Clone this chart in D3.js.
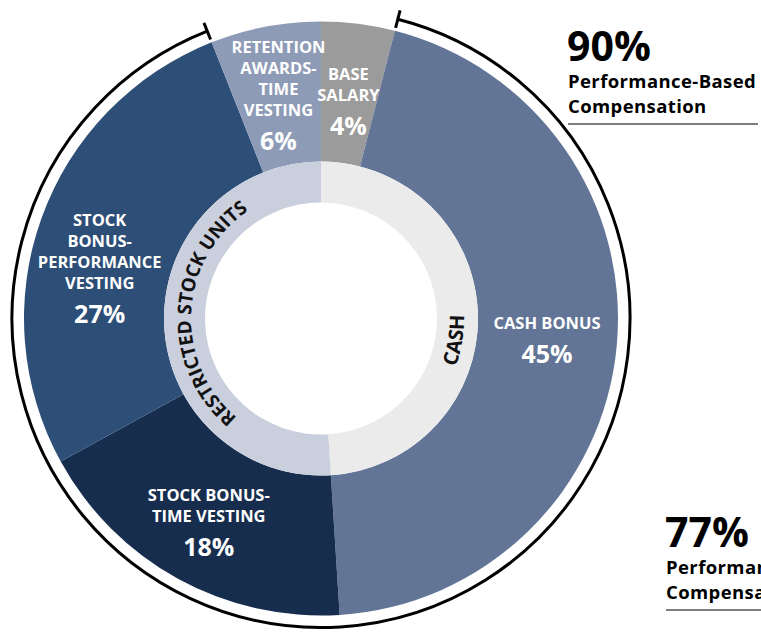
<!DOCTYPE html>
<html>
<head>
<meta charset="utf-8">
<script src="https://cdn.jsdelivr.net/npm/d3@7"></script>
<style>
  html, body { margin: 0; padding: 0; background: #fff; }
  svg { display: block; }
  text { font-family: "Open Sans", "Noto Sans", sans-serif; font-weight: 700; }
</style>
</head>
<body>
<svg id="chart" width="761" height="632"></svg>
<script>
// Pay mix: outer ring = pay elements, inner ring = cash vs. equity
const categories = [
  "Base Salary",
  "Cash Bonus",
  "Stock Bonus-Time Vesting",
  "Stock Bonus-Performance Vesting",
  "Retention Awards-Time Vesting"
];
const shares = [4, 45, 18, 27, 6];
const labelLines = [
  ["BASE", "SALARY"],
  ["CASH BONUS"],
  ["STOCK BONUS-", "TIME VESTING"],
  ["STOCK", "BONUS-", "PERFORMANCE", "VESTING"],
  ["RETENTION", "AWARDS-", "TIME", "VESTING"]
];
const performanceBased = [
  "Cash Bonus",
  "Stock Bonus-Time Vesting",
  "Stock Bonus-Performance Vesting"
];

const groups = ["CASH", "RESTRICTED STOCK UNITS"];
const groupShares = [49, 51];

const calloutValues = ["90%", "77%"];
const calloutLines = ["Performance-Based", "Compensation"];

// Styles
const sliceColors = ["#9b9b9b", "#627596", "#172d4e", "#2d4e76", "#8e9bb6"];
const groupColors = ["#ebebeb", "#c9cfdc"];

const svg = d3.select("#chart");
const cx = 321, cy = 318.5;
const rOuter = 297, rMid = 157, rInner = 116, rBracket = 309;

const g = svg.append("g").attr("transform", `translate(${cx},${cy})`);

const pie = d3.pie().sort(null).value(d => d).startAngle(0).endAngle(2 * Math.PI);
const slices = pie(shares);
const groupArcs = pie(groupShares);

const outerArc = d3.arc().innerRadius(rMid).outerRadius(rOuter);
const innerArc = d3.arc().innerRadius(rInner).outerRadius(rMid);

g.selectAll("path.slice").data(slices).join("path")
  .attr("class", "slice")
  .attr("d", outerArc)
  .attr("fill", (d, i) => sliceColors[i]);

g.selectAll("path.group").data(groupArcs).join("path")
  .attr("class", "group")
  .attr("d", innerArc)
  .attr("fill", (d, i) => groupColors[i]);

// Slice labels, centred on each slice's mid angle
const labelRadius = 227;
const labelNudge = {
  "Base Salary": { r: 219 },
  "Stock Bonus-Time Vesting": { r: 233 },
  "Stock Bonus-Performance Vesting": { a: -7 }
};
const lineGap = 21, pctGap = 34, capH = 12;

slices.forEach((s, i) => {
  const nudge = labelNudge[categories[i]] || {};
  const a = (s.startAngle + s.endAngle) / 2 + (nudge.a || 0) * Math.PI / 180;
  const r = nudge.r || labelRadius;
  const x = r * Math.sin(a);
  const y = -r * Math.cos(a);
  const lines = labelLines[i];
  const h = (lines.length - 1) * lineGap + pctGap + capH;
  const top = y - h / 2 + capH;
  const t = g.append("g").attr("fill", "#fff").attr("text-anchor", "middle");
  lines.forEach((ln, k) => {
    t.append("text").attr("x", x).attr("y", top + k * lineGap)
      .attr("font-size", 16.5).text(ln);
  });
  t.append("text").attr("x", x)
    .attr("y", top + (lines.length - 1) * lineGap + pctGap)
    .attr("font-size", 25).text(shares[i] + "%");
});

// Curved labels on the inner ring
function ringPath(r, aMid, span, ccw) {
  const p = d3.path();
  const a0 = aMid - span / 2 - Math.PI / 2, a1 = aMid + span / 2 - Math.PI / 2;
  if (ccw) {
    p.moveTo(r * Math.cos(a1), r * Math.sin(a1));
    p.arc(0, 0, r, a1, a0, true);
  } else {
    p.moveTo(r * Math.cos(a0), r * Math.sin(a0));
    p.arc(0, 0, r, a0, a1, false);
  }
  return p.toString();
}
const ringText = [
  { r: 143, shift: 11, ccw: true, size: 20 },   // CASH, reading upward on the right
  { r: 130, shift: 5, ccw: false, size: 19 }    // RSU, reading upward on the left
];
groupArcs.forEach((s, i) => {
  const mid = (s.startAngle + s.endAngle) / 2 + ringText[i].shift * Math.PI / 180;
  const id = "ring-" + i;
  g.append("path").attr("id", id).attr("fill", "none")
    .attr("d", ringPath(ringText[i].r, mid, Math.PI * 0.95, ringText[i].ccw));
  g.append("text").attr("font-size", ringText[i].size).attr("fill", "#111")
    .append("textPath").attr("href", "#" + id)
    .attr("startOffset", "50%").attr("text-anchor", "middle")
    .text(groups[i]);
});

// Bracket spanning the performance-based slices
const perf = slices.filter((s, i) => performanceBased.includes(categories[i]));
const bStart = d3.min(perf, d => d.startAngle);
const bEnd = d3.max(perf, d => d.endAngle);
const bp = d3.path();
bp.arc(0, 0, rBracket, bStart - Math.PI / 2, bEnd - Math.PI / 2, false);
g.append("path").attr("d", bp.toString())
  .attr("fill", "none").attr("stroke", "#000").attr("stroke-width", 3);
[bStart, bEnd].forEach(a => {
  const r0 = rBracket - 9, r1 = rBracket + 9;
  g.append("line")
    .attr("x1", r0 * Math.sin(a)).attr("y1", -r0 * Math.cos(a))
    .attr("x2", r1 * Math.sin(a)).attr("y2", -r1 * Math.cos(a))
    .attr("stroke", "#000").attr("stroke-width", 3);
});

// Callouts on the right
const perfTotal = d3.sum(perf, d => d.data);
const callouts = [
  { x: 568, y: 61, lineEnd: 758 },
  { x: 666, y: 547, lineEnd: 770 }
];
callouts.forEach((c, i) => {
  const value = i === 0 ? perfTotal + "%" : calloutValues[i];
  svg.append("text").attr("x", c.x - 1).attr("y", c.y)
    .attr("font-size", 41).attr("fill", "#000").text(value);
  calloutLines.forEach((ln, k) => {
    svg.append("text").attr("x", c.x).attr("y", c.y + 27 + k * 25)
      .attr("font-size", 18.5).attr("letter-spacing", 0.4)
      .attr("fill", "#000").text(ln);
  });
  svg.append("line").attr("x1", c.x).attr("x2", c.lineEnd)
    .attr("y1", c.y + 63).attr("y2", c.y + 63)
    .attr("stroke", "#555").attr("stroke-width", 1.5);
});
</script>
</body>
</html>
